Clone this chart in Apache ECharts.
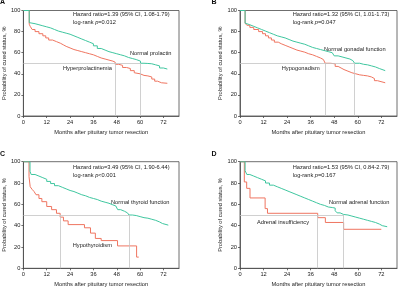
<!DOCTYPE html>
<html><head><meta charset="utf-8">
<script src="https://cdn.jsdelivr.net/npm/echarts@6/dist/echarts.min.js"></script>
<style>html,body{margin:0;padding:0;background:#fff}#c{width:400px;height:289px}</style>
</head><body><div id="c"></div>
<script>
const xTicks = [0, 12, 24, 36, 48, 60, 72];
const yTicks = [0, 20, 40, 60, 80, 100];
const xTitle = 'Months after pituitary tumor resection';
const yTitle = 'Probability of cured status, %';
const panelLetters = ['A', 'B', 'C', 'D'];
const hrTexts = ['Hazard ratio=1.39 (95% CI, 1.08-1.79)', 'Hazard ratio=1.32 (95% CI, 1.01-1.73)',
  'Hazard ratio=3.49 (95% CI, 1.90-6.44)', 'Hazard ratio=1.53 (95% CI, 0.84-2.79)'];
const pTexts = ['=0.012', '=0.047', '<0.001', '=0.167'];
const normalNames = ['Normal prolactin', 'Normal gonadal function', 'Normal thyroid function', 'Normal adrenal function'];
const abnormalNames = ['Hyperprolactinemia', 'Hypogonadism', 'Hypothyroidism', 'Adrenal insufficiency'];

// Kaplan-Meier curves: [month, cured %]
const aNormal = [[0,100],[3,88.5],[4,87.5],[6,86.5],[8,85.5],[10,84.5],[12,83.5],[14,82],[16,80.5],[18,79.5],[20,78.5],[22,77.5],[24,76],[26,74.5],[28,73],[30,71.5],[32,70],[34,68.5],[36,66.5],[38,64],[40,62.5],[42,61],[44,60],[46,59],[48,58],[50,57],[52,55.5],[54,54.5],[56,53.5],[58,52],[60.2,50],[62,49.8],[64,49.5],[66,48.5],[68,47.5],[70,45.5],[72,44.5],[74,44.5]];
const aAbnormal = [[0,100],[3,87],[3.5,85],[4.5,82],[6,80],[8,78],[10,76],[11.5,74],[13,72],[15,70.5],[17,69],[19,67.5],[20.5,66],[22,64.5],[24,63],[26,62],[28,61],[30,60],[32,59],[34,58],[36,56.5],[38,55],[40,54],[42,53],[44,52],[46,51],[47.2,49],[49,48],[51,46],[53,45],[55,43],[57,41],[58,40],[60,38.5],[62,38],[64,37],[66,35],[67.5,33],[69,31.5],[71,31],[74,31]];
const bNormal = [[0,100],[2.6,88],[3.5,86.5],[5,85],[7,83.5],[9,82],[11,80.5],[13,79],[15,77.5],[17,76],[19,75],[21,74],[23,72.5],[25,71],[27,70],[29,69],[31,68],[33,66.5],[35,65],[37,64],[39,63],[41,62],[43,61],[45,60],[47,59.5],[48,57],[50,56],[52,55],[54,54],[56,52.5],[57.5,51.5],[58.4,50],[61,49],[63,48.5],[65,47.5],[67,46.5],[69,45],[71,43.5],[72,43],[74,43]];
const bAbnormal = [[0,100],[2.6,88],[3.5,86],[5,84],[7,82],[9.5,80],[11.5,78],[13,76],[14.5,74],[16,72],[17.5,70],[19.5,68.5],[21,67],[23,65.5],[25,64],[27,62.5],[29,61.5],[31,60.5],[33,59],[35,58],[37,56.5],[39,55],[41,53.5],[42.5,52],[43.4,50],[46,49.5],[48.5,47],[50,45.5],[51.5,44],[53,42.5],[55,41],[57,40],[59,39],[61,38.5],[63,38],[65,37],[67,35.5],[68.5,33.5],[70,32],[71,31.5],[74,31.5]];
const cNormal = [[0,100],[3.4,91],[4,88],[6,86.5],[8,85],[10,83.5],[12,81.5],[14,79.5],[16,77.5],[18,76],[20,74.5],[22,73],[24,72],[26,70.5],[28,69],[30,68],[32,66.5],[34,65.5],[36,64.5],[38,63],[40,62],[42,61],[44,59.5],[46,58.5],[47.5,57.5],[48.5,55],[50,53.5],[52,52],[53.5,51],[54.3,50],[56,49.5],[58,48.5],[60,47.5],[62,47],[64,46],[66,45],[68,43.5],[70,42],[71.5,40.5],[74.5,40.5]];
const cAbnormal = [[0,100],[2.9,86],[3.5,76.5],[4.5,74],[5.5,72],[6.5,69],[8,65.5],[9.5,62.5],[12,58],[14.5,55],[17,51.6],[18.9,48],[20.6,44.5],[23,41],[31.4,38],[34.5,33],[37,28],[40,26],[48.4,21],[58.2,10.5],[59.3,10.5]];
const dNormal = [[0,100],[2.6,91.5],[3.5,88],[5,86.5],[7,85],[9,83.5],[11,82],[13,80],[15,78],[17,76.5],[19,75],[21,73.5],[23,72],[25,70.5],[27,69],[29,67.5],[31,66],[33,64.5],[35,63],[37,61.5],[39,60],[41,59],[43,57.5],[45,57],[47,56.5],[48.5,54],[49.5,52],[51,50.5],[52.8,50],[55,49],[57,48],[59,47],[61,46],[63,45],[65,44],[67,43],[69,41.5],[71,40],[72.5,39],[75,39]];
const dAbnormal = [[0,100],[2.2,81],[3.4,75],[5.1,66],[12.8,56],[14,51.6],[39.6,47.5],[43.5,43],[52.8,36.6],[72,36.6]];
const medians = [[47.2, 60.2], [43.4, 58.4], [18.9, 54.3], [39.6, 52.8]];

const normalData = [aNormal, bNormal, cNormal, dNormal];
const abnormalData = [aAbnormal, bAbnormal, cAbnormal, dAbnormal];

const FONT = '"Liberation Sans", Arial, sans-serif';
const FS = 5.7;
const GREEN = '#3fc69f';
const ORANGE = '#ef7560';
const AXIS = '#4a4a4a';

const grids = [
  {left: 21, top: 10.5, width: 158, height: 105.5},
  {left: 240, top: 10.5, width: 157, height: 105.5},
  {left: 21, top: 161.7, width: 158, height: 106.6},
  {left: 240, top: 161.7, width: 157, height: 106.6}
];
// annotation anchor positions [x, y]
const hrPos = [[73, 14.7], [292.7, 14.7], [73, 167], [292.7, 167]];
const normalPos = [[130, 53.3], [324, 49.3], [111, 202.7], [329, 202.3]];
const abnPos = [[63, 68.3], [281.7, 68.3], [72.7, 245.3], [257, 222.3]];
const letterPos = [[0, 2.5], [211.5, 2.5], [0, 153.7], [211.5, 153.7]];

const labelStyle = {fontSize: FS, fontFamily: FONT, color: '#222'};
const option = {
  animation: false,
  backgroundColor: '#fff',
  grid: grids.map(g => Object.assign({show: true, borderColor: AXIS, borderWidth: 0.8, containLabel: false}, g)),
  xAxis: grids.map((g, i) => ({
    type: 'value', gridIndex: i, min: 0, max: 80, interval: 12,
    name: xTitle, nameLocation: 'middle', nameGap: 13.5,
    nameTextStyle: labelStyle,
    axisLine: {show: true, lineStyle: {color: AXIS, width: 0.8}},
    axisTick: {show: true, length: 2, lineStyle: {color: AXIS, width: 0.8}, customValues: xTicks},
    axisLabel: Object.assign({margin: 3, customValues: xTicks}, labelStyle),
    splitLine: {show: false}
  })),
  yAxis: grids.map((g, i) => ({
    type: 'value', gridIndex: i, min: 0, max: 100, interval: 20,
    name: yTitle, nameLocation: 'middle', nameGap: 14.5,
    nameTextStyle: labelStyle,
    axisLine: {show: true, lineStyle: {color: AXIS, width: 0.8}},
    axisTick: {show: true, length: 2, lineStyle: {color: AXIS, width: 0.8}, customValues: yTicks},
    axisLabel: Object.assign({margin: 3, customValues: yTicks}, labelStyle),
    splitLine: {show: false}
  })),
  series: [],
  graphic: []
};

for (let i = 0; i < 4; i++) {
  const m = medians[i];
  option.series.push({
    type: 'line', xAxisIndex: i, yAxisIndex: i, data: [], silent: true,
    markLine: {
      silent: true, symbol: ['none', 'none'], label: {show: false}, animation: false,
      lineStyle: {color: '#c4c4c4', type: 'solid', width: 0.8},
      data: [
        [{coord: [0, 50]}, {coord: [m[1], 50]}],
        [{coord: [m[0], 50]}, {coord: [m[0], 0]}],
        [{coord: [m[1], 50]}, {coord: [m[1], 0]}]
      ]
    }
  });
  option.series.push({
    type: 'line', xAxisIndex: i, yAxisIndex: i, step: 'end', showSymbol: false,
    data: abnormalData[i], lineStyle: {color: ORANGE, width: 1}, itemStyle: {color: ORANGE}, z: 3
  });
  option.series.push({
    type: 'line', xAxisIndex: i, yAxisIndex: i, step: 'end', showSymbol: false,
    data: normalData[i], lineStyle: {color: GREEN, width: 1}, itemStyle: {color: GREEN}, z: 4
  });

  const txt = (x, y, text, extra) => Object.assign({
    type: 'text', x: x, y: y, silent: true,
    style: Object.assign({text: text, fontSize: FS, fontFamily: FONT, fill: '#222', align: 'left', verticalAlign: 'middle'}, extra || {})
  });
  option.graphic.push(txt(hrPos[i][0], hrPos[i][1], hrTexts[i]));
  option.graphic.push(txt(hrPos[i][0], hrPos[i][1] + 8, 'log-rank {i|p}' + pTexts[i], {
    rich: {i: {fontStyle: 'italic', fontSize: FS, fontFamily: FONT, fill: '#222'}}
  }));
  option.graphic.push(txt(normalPos[i][0], normalPos[i][1], normalNames[i]));
  option.graphic.push(txt(abnPos[i][0], abnPos[i][1], abnormalNames[i]));
  option.graphic.push(txt(letterPos[i][0], letterPos[i][1], panelLetters[i], {fontSize: 7, fontWeight: 'bold', fill: '#111'}));
}

const chart = echarts.init(document.getElementById('c'), null, {renderer: 'canvas'});
chart.setOption(option);
</script>
</body></html>
